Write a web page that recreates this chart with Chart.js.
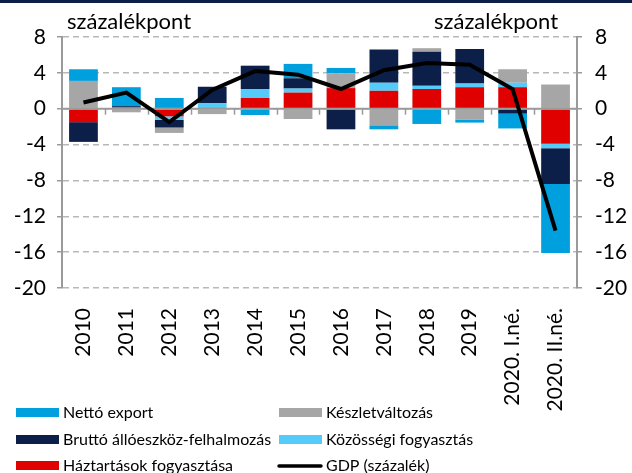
<!DOCTYPE html>
<html>
<head>
<meta charset="utf-8">
<script src="https://cdn.jsdelivr.net/npm/chart.js@4/dist/chart.umd.min.js"></script>
<style>
    html, body { margin: 0; padding: 0; background: #fff; }
    #wrap { width: 632px; height: 473px; position: relative; }
</style>
</head>
<body>
<div id="wrap"><canvas id="chart" width="632" height="473"></canvas></div>
<script>
// GDP growth decomposition, expenditure side (percentage points)

const categories = ['2010', '2011', '2012', '2013', '2014', '2015', '2016', '2017', '2018', '2019', '2020. I.né.', '2020. II.né.'];

const haztartasok = [-1.5, 0.15, -0.85, 0.05, 1.2, 1.8, 2.3, 2.0, 2.2, 2.4, 2.4, -3.9];
const kozossegi   = [0, 0.05, -0.4, 0.55, 1.0, 0.45, 0, 0.9, 0.35, 0.4, 0.5, -0.5];
const brutto      = [-2.2, 0.1, -0.85, 1.85, 2.6, 1.15, -2.3, 3.7, 3.8, 3.85, -0.55, -4.0];
const keszlet     = [3.1, -0.4, -0.6, -0.6, 0, -1.15, 1.65, -1.85, 0.4, -1.2, 1.5, 2.7];
const nettoExport = [1.3, 2.1, 1.2, 0, -0.7, 1.6, 0.6, -0.45, -1.7, -0.35, -1.65, -7.7];
const gdp         = [0.7, 1.8, -1.5, 2.1, 4.2, 3.8, 2.2, 4.3, 5.1, 4.9, 2.2, -13.6];

const yTicks = [8, 4, 0, -4, -8, -12, -16, -20];

const COLORS = {
    haztartasok: '#e00000',
    kozossegi: '#55cbf9',
    brutto: '#0c1f48',
    keszlet: '#a6a6a6',
    netto: '#00a0df',
    gdp: '#000000'
};
const GRID = '#b8b8b8';
const AXIS = '#9a9a9a';
const FONT = 'Lato';

// ============================================
// EXTRA DRAWING (zero line, titles, legend)
// ============================================

const extras = {
    id: 'extras',
    beforeDatasetDraw(chart, args) {
        if (args.meta.type !== 'line') return;
        const { ctx, chartArea, scales } = chart;
        const y0 = scales.y.getPixelForValue(0);
        const step = scales.x.getPixelForValue(1) - scales.x.getPixelForValue(0);
        ctx.save();
        ctx.strokeStyle = AXIS;
        ctx.lineWidth = 2;
        ctx.beginPath();
        ctx.moveTo(chartArea.left, y0);
        ctx.lineTo(chartArea.right, y0);
        ctx.stroke();
        ctx.lineWidth = 1.5;
        for (let i = 0; i < categories.length - 1; i++) {
            const px = Math.round(scales.x.getPixelForValue(i) + step / 2) + 0.5;
            ctx.beginPath();
            ctx.moveTo(px, y0);
            ctx.lineTo(px, y0 + 6);
            ctx.stroke();
        }
        ctx.restore();
    },
    afterDraw(chart) {
        const ctx = chart.ctx;
        ctx.save();

        // navy frame line on top
        ctx.fillStyle = '#0c1f48';
        ctx.fillRect(0, 0, 632, 3);

        // unit titles
        ctx.fillStyle = '#000';
        ctx.font = '22px ' + FONT;
        ctx.textBaseline = 'alphabetic';
        ctx.textAlign = 'left';
        ctx.fillText('százalékpont', 67, 29);
        ctx.fillText('százalékpont', 434, 29);

        // legend
        const items = [
            { label: 'Nettó export', color: COLORS.netto, x: 16, y: 413 },
            { label: 'Bruttó állóeszköz-felhalmozás', color: COLORS.brutto, x: 16, y: 440 },
            { label: 'Háztartások fogyasztása', color: COLORS.haztartasok, x: 16, y: 466 },
            { label: 'Készletváltozás', color: COLORS.keszlet, x: 279, y: 413 },
            { label: 'Közösségi fogyasztás', color: COLORS.kozossegi, x: 279, y: 440 },
            { label: 'GDP (százalék)', color: COLORS.gdp, x: 279, y: 466, line: true }
        ];
        ctx.font = '16px ' + FONT;
        ctx.textBaseline = 'middle';
        for (const it of items) {
            if (it.line) {
                ctx.strokeStyle = it.color;
                ctx.lineWidth = 3.5;
                ctx.lineCap = 'round';
                ctx.beginPath();
                ctx.moveTo(it.x, it.y);
                ctx.lineTo(it.x + 42, it.y);
                ctx.stroke();
            } else {
                ctx.fillStyle = it.color;
                ctx.fillRect(it.x, it.y - 5, 43, 9);
            }
            ctx.fillStyle = '#000';
            ctx.fillText(it.label, it.x + 47, it.y);
        }
        ctx.restore();
    }
};

// ============================================
// CHART
// ============================================

function barSet(label, data, color) {
    return {
        type: 'bar',
        label: label,
        data: data,
        backgroundColor: color,
        borderWidth: 0,
        categoryPercentage: 1,
        barPercentage: 0.67,
        yAxisID: 'y'
    };
}

const tickFont = { family: FONT, size: 21 };

new Chart(document.getElementById('chart'), {
    data: {
        labels: categories,
        datasets: [
            barSet('Háztartások fogyasztása', haztartasok, COLORS.haztartasok),
            barSet('Közösségi fogyasztás', kozossegi, COLORS.kozossegi),
            barSet('Bruttó állóeszköz-felhalmozás', brutto, COLORS.brutto),
            barSet('Készletváltozás', keszlet, COLORS.keszlet),
            barSet('Nettó export', nettoExport, COLORS.netto),
            {
                type: 'line',
                label: 'GDP (százalék)',
                data: gdp,
                borderColor: COLORS.gdp,
                borderWidth: 4,
                pointRadius: 0,
                tension: 0,
                order: -1,
                yAxisID: 'y'
            }
        ]
    },
    options: {
        responsive: false,
        animation: false,
        layout: { padding: { top: 37, left: 0, right: 0, bottom: 0 } },
        plugins: {
            legend: { display: false },
            tooltip: { enabled: false }
        },
        scales: {
            x: {
                stacked: true,
                offset: true,
                grid: { display: false },
                border: { display: false },
                ticks: {
                    color: '#000',
                    font: tickFont,
                    minRotation: 90,
                    maxRotation: 90,
                    autoSkip: false,
                    padding: 12
                },
                afterFit(scale) { scale.height = 185; }
            },
            y: {
                stacked: true,
                position: 'left',
                min: -20,
                max: 8,
                afterBuildTicks(scale) { scale.ticks = yTicks.map(v => ({ value: v })); },
                grid: {
                    color: GRID,
                    lineWidth: 1.5,
                    tickLength: 5,
                    tickColor: AXIS,
                    tickBorderDash: []
                },
                border: { display: true, color: AXIS, width: 2, dash: [6, 4] },
                ticks: { color: '#000', font: tickFont, padding: 11 },
                afterFit(scale) { scale.width = 62; }
            },
            y2: {
                position: 'right',
                min: -20,
                max: 8,
                afterBuildTicks(scale) { scale.ticks = yTicks.map(v => ({ value: v })); },
                grid: {
                    drawOnChartArea: false,
                    tickLength: 5,
                    tickColor: AXIS,
                    lineWidth: 1.5,
                    tickBorderDash: []
                },
                border: { display: true, color: AXIS, width: 2 },
                ticks: { color: '#000', font: tickFont, padding: 13 },
                afterFit(scale) { scale.width = 55; }
            }
        }
    },
    plugins: [extras]
});
</script>
</body>
</html>
